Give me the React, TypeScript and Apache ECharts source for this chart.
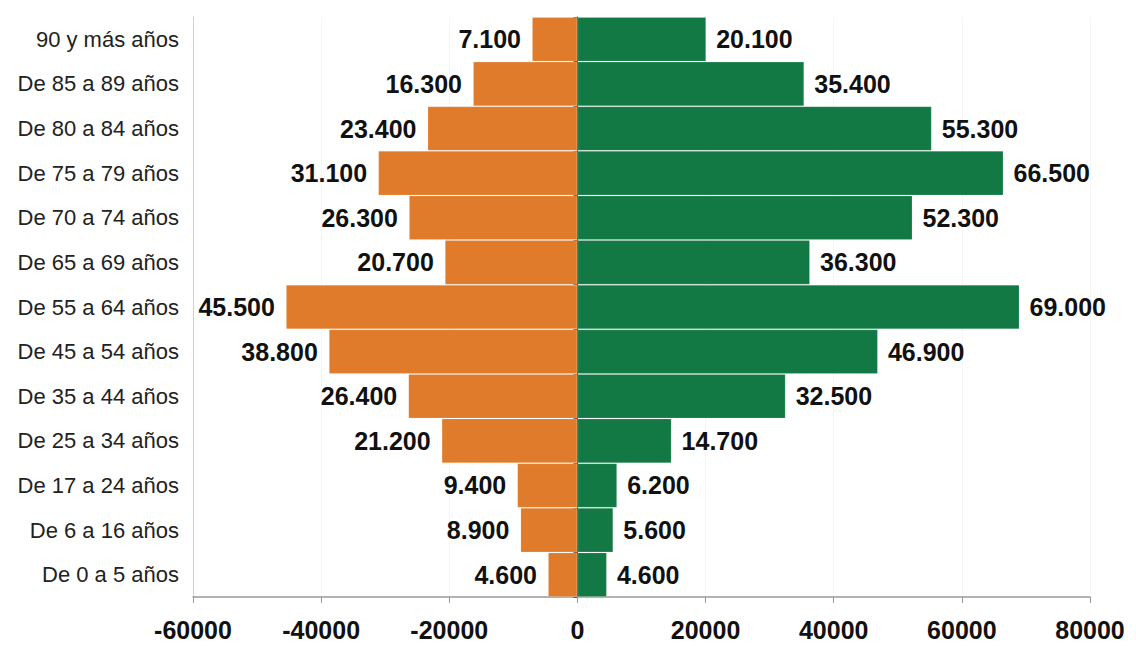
import React, { useEffect, useRef } from "react";
import * as echarts from "echarts";

const categories = [
  "90 y más años",
  "De 85 a 89 años",
  "De 80 a 84 años",
  "De 75 a 79 años",
  "De 70 a 74 años",
  "De 65 a 69 años",
  "De 55 a 64 años",
  "De 45 a 54 años",
  "De 35 a 44 años",
  "De 25 a 34 años",
  "De 17 a 24 años",
  "De 6 a 16 años",
  "De 0 a 5 años",
];

const orangeValues = [7100, 16300, 23400, 31100, 26300, 20700, 45500, 38800, 26400, 21200, 9400, 8900, 4600];
const greenValues = [20100, 35400, 55300, 66500, 52300, 36300, 69000, 46900, 32500, 14700, 6200, 5600, 4600];

const fmt = (v: number) => {
  const s = String(Math.abs(Math.round(v)));
  return s.replace(/\B(?=(\d{3})+(?!\d))/g, ".");
};

export default function App() {
  const ref = useRef<HTMLDivElement>(null);
  useEffect(() => {
    document.body.style.margin = "0";
    const chart = echarts.init(ref.current!, undefined, { renderer: "svg" });
    const labelFont = {
      fontFamily: "'Liberation Sans', Arial, sans-serif",
      fontWeight: "bold" as const,
      fontSize: 25,
      color: "#111",
    };
    chart.setOption({
      animation: false,
      backgroundColor: "#ffffff",
      grid: { left: 193, right: 46, top: 17, bottom: 49, containLabel: false },
      xAxis: {
        type: "value",
        min: -60000,
        max: 80000,
        interval: 20000,
        axisLine: { show: true, lineStyle: { color: "#999", width: 1.5 } },
        axisTick: { show: true, length: 6, lineStyle: { color: "#999" } },
        splitLine: { show: true, lineStyle: { color: "#f6f6f6", width: 1 } },
        axisLabel: {
          margin: 20,
          fontFamily: "'Liberation Sans', Arial, sans-serif",
          fontWeight: "bold",
          fontSize: 25,
          color: "#111",
          formatter: (v: number) => String(v),
        },
      },
      yAxis: [
        {
          type: "category",
          data: categories,
          inverse: true,
          position: "left",
          axisLine: { show: true, onZero: false, lineStyle: { color: "#c8c8c8", type: "dotted", width: 1 } },
          axisTick: { show: false },
          axisLabel: {
            margin: 14,
            fontFamily: "'Liberation Sans', Arial, sans-serif",
            fontSize: 22,
            color: "#222",
          },
        },
        {
          type: "category",
          data: categories,
          inverse: true,
          position: "left",
          axisLine: { show: true, onZero: true, lineStyle: { color: "#7a5030", width: 1 } },
          axisTick: { show: true, length: 4, lineStyle: { color: "#7a5030" } },
          axisLabel: { show: false },
        },
      ],
      series: [
        {
          type: "bar",
          stack: "total",
          yAxisIndex: 0,
          data: orangeValues.map((v) => -v),
          barCategoryGap: "0%",
          itemStyle: { color: "#E07B2B", borderColor: "rgba(255,255,255,0.15)", borderWidth: 1 },
          label: {
            show: true,
            position: "left",
            distance: 11,
            ...labelFont,
            formatter: (p: any) => fmt(p.value),
          },
        },
        {
          type: "bar",
          stack: "total",
          yAxisIndex: 0,
          data: greenValues,
          barCategoryGap: "0%",
          itemStyle: { color: "#137944", borderColor: "rgba(255,255,255,0.15)", borderWidth: 1 },
          label: {
            show: true,
            position: "right",
            distance: 10,
            ...labelFont,
            formatter: (p: any) => fmt(p.value),
          },
        },
      ],
    });
    return () => chart.dispose();
  }, []);
  return (
    <div
      ref={ref}
      style={{ position: "fixed", left: 0, top: 0, width: 1136, height: 646 }}
    />
  );
}
